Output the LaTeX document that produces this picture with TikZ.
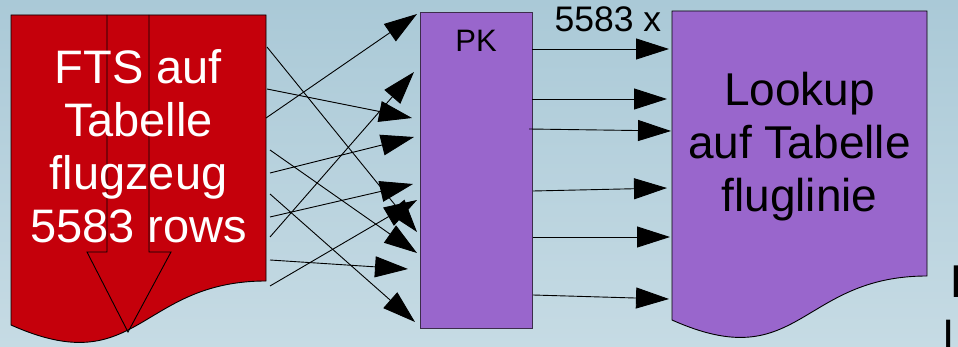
\documentclass[tikz,border=0pt]{standalone}
\usepackage{fontspec}
\setmainfont{Liberation Sans}
\usetikzlibrary{arrows.meta}
\definecolor{docred}{RGB}{197,0,11}
\definecolor{lilac}{RGB}{153,102,204}
\definecolor{pkedge}{RGB}{60,45,75}
\definecolor{bgtop}{RGB}{170,201,215}
\definecolor{bgbot}{RGB}{198,219,228}
\begin{document}
\begin{tikzpicture}[x=1pt,y=-1pt,
  conn/.style={draw=black, line width=0.9pt, -{Triangle[length=33pt,width=21pt]}},
  docedge/.style={draw=black, line width=0.9pt},
  bigtext/.style={font=\fontsize{47}{53}\selectfont, align=center, anchor=base, inner sep=0pt},
  pkbox/.style={draw=pkedge, fill=lilac, line width=1pt, inner sep=0pt,
    minimum width=112pt, minimum height=315pt}]
\useasboundingbox (0,0) rectangle (958,347);
\clip (0,0) rectangle (958,347);
\shade[top color=bgtop, bottom color=bgbot] (0,0) rectangle (958,347);

% source document: full text search on table flugzeug
\draw[docedge, fill=docred] (11,15) coordinate (src) -- (266,15) -- (266,281)
  .. controls (138.5,281) and (138.5,382) .. (11,325) -- cycle;
\draw[docedge] (107,15) -- (107,252) -- (87,252) -- (128,332) -- (171,252)
  -- (149,252) -- (149,15);
% the base anchor of a multi-line node sits on its last line
\node[bigtext, text=white] (srctext) at (138.5,243)
  {FTS auf\\Tabelle\\flugzeug\\5583 rows};

% primary key index
\node[pkbox] (pk) at (476,170.5) {};
\node[font=\fontsize{31}{36}\selectfont, anchor=base, inner sep=0pt] (pklabel)
  at (476,52) {PK};

% target document: lookups on table fluglinie
\draw[docedge, fill=lilac] (672,11) coordinate (dst) -- (927,11) -- (927,276)
  .. controls (799.5,276) and (799.5,377) .. (672,320) -- cycle;
\node[bigtext, font=\fontsize{46}{53}\selectfont] (dsttext) at (799.5,212)
  {Lookup\\auf Tabelle\\fluglinie};
\node[font=\fontsize{35.5}{40}\selectfont, anchor=base, inner sep=0pt] (count)
  at (608,32) {5583 x};

% rows hitting the index in random order
\foreach \i/\sx/\sy/\tx/\ty in {1/267/47/417/232, 2/267/89/412/118,
    3/266/118/417/14, 4/270/150/417/253, 5/270/173/414/137,
    6/270/194/415/322, 7/270/217/413/184, 8/270/237/414/72,
    9/270/260/408/269, 10/270/286/417/200} {
  \coordinate (r\i) at (\sx,\sy);
  \coordinate (k\i) at (\tx,\ty);
  \draw[conn] (r\i) -- (k\i);
}

% one lookup per row
\foreach \i/\sx/\sy/\tx/\ty in {1/532/49/669/49, 2/532/99/667/99,
    3/529/129/671/131, 4/533/191/667/188, 5/533/237/670/237,
    6/533/295/669/299} {
  \coordinate (p\i) at (\sx,\sy);
  \coordinate (l\i) at (\tx,\ty);
  \draw[conn] (p\i) -- (l\i);
}

% text running off the right edge
\node[font=\fontsize{46}{53}\selectfont, anchor=base west, inner sep=0pt] (edge1)
  at (950,298) {E};
\node[font=\fontsize{46}{53}\selectfont, anchor=base west, inner sep=0pt] (edge2)
  at (943,353) {l};
\end{tikzpicture}
\end{document}
